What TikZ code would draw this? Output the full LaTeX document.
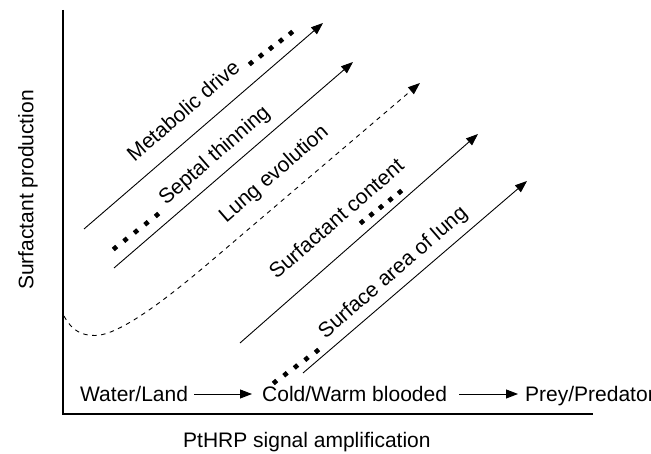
\documentclass[tikz,border=0pt]{standalone}
\usepackage{fontspec}
\setmainfont{Liberation Sans}
\usetikzlibrary{arrows.meta,calc}
\begin{document}
\begin{tikzpicture}[x=1pt,y=-1pt,
  lbl/.style={font=\fontsize{21}{25}\selectfont, inner sep=0pt},
  tip/.style={-{Triangle[length=12pt,width=9pt]}},
  diag/.style={line width=0.9pt, tip},
  harr/.style={line width=0.9pt, tip},
  axisline/.style={line width=1.3pt},
  dotsq/.style={fill=black, inner sep=0pt, minimum size=4.6pt, rotate=40},
  dashline/.style={line width=0.9pt, dash pattern=on 4.5pt off 4.5pt, tip}
]
\useasboundingbox (0,0) rectangle (651,454);
% axes
\coordinate (ytop) at (63,10);
\coordinate (org) at (63,414);
\coordinate (xend) at (593,414);
\draw[axisline] (ytop) -- (org) -- (xend);
% diagonal arrows
\coordinate (m0) at (84,229);  \coordinate (m1) at (323,23);
\coordinate (s0) at (114,268); \coordinate (s1) at (353,62);
\coordinate (l0) at (64,316);  \coordinate (lm) at (95,335.5);
\coordinate (lb) at (210,262); \coordinate (l1) at (420,83);
\coordinate (c0) at (240,343); \coordinate (c1) at (478,134);
\coordinate (a0) at (303,373); \coordinate (a1) at (527,181);
\draw[diag] (m0) -- (m1);
\draw[diag] (s0) -- (s1);
\draw[dashline] (l0) .. controls (72,331) and (82,335.5) .. (lm)
   .. controls (120,335.5) and (170,296) .. (lb) -- (l1);
\draw[diag] (c0) -- (c1);
\draw[diag] (a0) -- (a1);
% square dots
\foreach \t [count=\i] in {0,0.25,0.5,0.75,1}{
  \node[dotsq] (md\i) at ($(251,63)!\t!(291,33)$) {};
  \node[dotsq] (sd\i) at ($(115,248)!\t!(157,215)$) {};
  \node[dotsq] (cd\i) at ($(362,222)!\t!(400,192)$) {};
  \node[dotsq] (ad\i) at ($(275,382)!\t!(317,351)$) {};
}
% diagonal labels
\node[lbl, anchor=base, rotate=41] (tmd) at (188,116) {Metabolic drive};
\node[lbl, anchor=base, rotate=41] (tst) at (218.5,160) {Septal thinning};
\node[lbl, anchor=base, rotate=41] (tle) at (278,178.5) {Lung evolution};
\node[lbl, anchor=base, rotate=41] (tsc) at (341,224) {Surfactant content};
\node[lbl, anchor=base, rotate=41] (tsa) at (397,277) {Surface area of lung};
% bottom row
\node[lbl, anchor=base west] (wl) at (80,401.5) {Water/Land};
\node[lbl, anchor=base west] (cw) at (262,401.5) {Cold/Warm blooded};
\node[lbl, anchor=base west] (pp) at (525,401.5) {Prey/Predator};
\draw[harr] ([xshift=6pt]wl.east) -- ([xshift=-10pt]cw.west);
\draw[harr] ([xshift=12pt]cw.east) -- ($(cw.east -| pp.west)+(-7,0)$);
% axis labels
\node[lbl, anchor=base west] (xl) at (183,447) {PtHRP signal amplification};
\node[lbl, rotate=90] (yl) at (28,190) {Surfactant production};
\end{tikzpicture}
\end{document}
